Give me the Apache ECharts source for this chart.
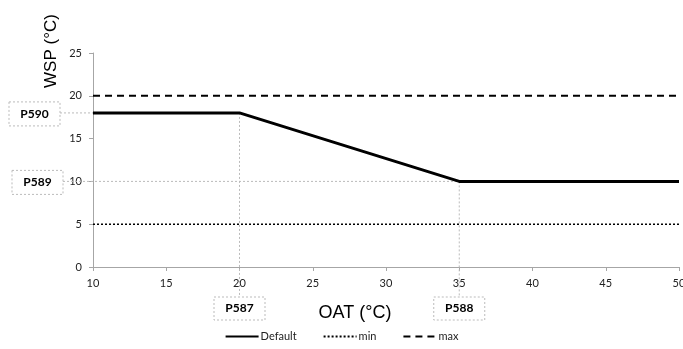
<!DOCTYPE html>
<html><head><meta charset="utf-8">
<script src="https://cdn.jsdelivr.net/npm/echarts@6/dist/echarts.min.js"></script>
<style>html,body{margin:0;padding:0;background:#fff}#c{width:683px;height:349px}</style>
</head><body><div id="c"></div>
<script>
const defaultData = [[10,18],[20,18],[35,10],[50,10]];
const minData = [[10,5],[50,5]];
const maxData = [[10,20],[50,20]];
const xTicks = {min:10, max:50, interval:5};
const yTicks = {min:0, max:25, interval:5};
const vMarkers = [{name:'P587', x:20, y:18},{name:'P588', x:35, y:10}];
const hMarkers = [{name:'P590', x:20, y:18},{name:'P589', x:35, y:10}];

const font = 'Lato, "Open Sans", sans-serif';
const chart = echarts.init(document.getElementById('c'));
const axisCol = '#a6a6a6';
chart.setOption({
  animation:false,
  grid:{left:93, right:4, top:53, bottom:82, outerBoundsMode:'none', containLabel:false},
  xAxis:{type:'value', min:xTicks.min, max:xTicks.max, interval:xTicks.interval,
    splitLine:{show:false},
    axisLine:{lineStyle:{color:axisCol}},
    axisTick:{show:true, length:4, lineStyle:{color:axisCol}},
    axisLabel:{color:'#222', fontSize:11, fontFamily:font, margin:11}},
  yAxis:{type:'value', min:yTicks.min, max:yTicks.max, interval:yTicks.interval,
    splitLine:{show:false},
    axisLine:{show:true, lineStyle:{color:axisCol}},
    axisTick:{show:true, length:4, lineStyle:{color:axisCol}},
    axisLabel:{color:'#222', fontSize:11, fontFamily:font, margin:11}},
  legend:{bottom:2, left:'center', itemWidth:33, itemHeight:8, itemGap:26,
    itemStyle:{opacity:0},
    textStyle:{fontSize:11, fontFamily:font, color:'#222', padding:[0,0,0,-3]},
    data:['Default','min','max']},
  series:[
    {name:'Default', type:'line', data:defaultData, symbol:'none', lineStyle:{color:'#000', width:3}, itemStyle:{color:'#000'}, z:5},
    {name:'min', type:'line', data:minData, symbol:'none', lineStyle:{color:'#000', width:1.5, type:[2,2]}, itemStyle:{color:'#000'}},
    {name:'max', type:'line', data:maxData, symbol:'none', lineStyle:{color:'#000', width:2, type:[7,5]}, itemStyle:{color:'#000'}}
  ]
});

function place(){
  const g = [];
  const guide = {stroke:'#bbb', lineWidth:1, lineDash:[2,2]};
  const box = {fill:'#fff', stroke:'#bbb', lineWidth:1, lineDash:[2,2]};
  const txt = {fill:'#000', font:'bold 12px ' + font, align:'center', verticalAlign:'middle'};
  hMarkers.forEach((m,i)=>{
    const p = chart.convertToPixel({gridIndex:0}, [m.x, m.y]);
    const bx = i===0 ? 9 : 12, bw = 51, bh = 24;
    g.push({type:'line', shape:{x1:bx+bw, y1:p[1], x2:p[0], y2:p[1]}, style:guide, z:1});
    g.push({type:'rect', shape:{x:bx, y:p[1]-bh/2+1, width:bw, height:bh}, style:box, z:2});
    g.push({type:'text', x:bx+bw/2, y:p[1]+1, style:Object.assign({text:m.name}, txt), z:3});
  });
  vMarkers.forEach(m=>{
    const p = chart.convertToPixel({gridIndex:0}, [m.x, m.y]);
    const by = 297, bw = 51, bh = 23;
    g.push({type:'line', shape:{x1:p[0], y1:p[1], x2:p[0], y2:by}, style:guide, z:1});
    g.push({type:'rect', shape:{x:p[0]-bw/2, y:by, width:bw, height:bh}, style:box, z:2});
    g.push({type:'text', x:p[0], y:by+bh/2, style:Object.assign({text:m.name}, txt), z:3});
  });
  g.push({type:'text', x:355, y:313, style:{text:'OAT (°C)', fill:'#000', font:'18px "Liberation Sans", Arial, sans-serif', align:'center', verticalAlign:'middle'}});
  g.push({type:'text', x:51, y:51, rotation:Math.PI/2, style:{text:'WSP (°C)', fill:'#000', font:'17px "Liberation Sans", Arial, sans-serif', align:'center', verticalAlign:'middle'}});
  chart.setOption({graphic:g});
}
place();
</script></body></html>
